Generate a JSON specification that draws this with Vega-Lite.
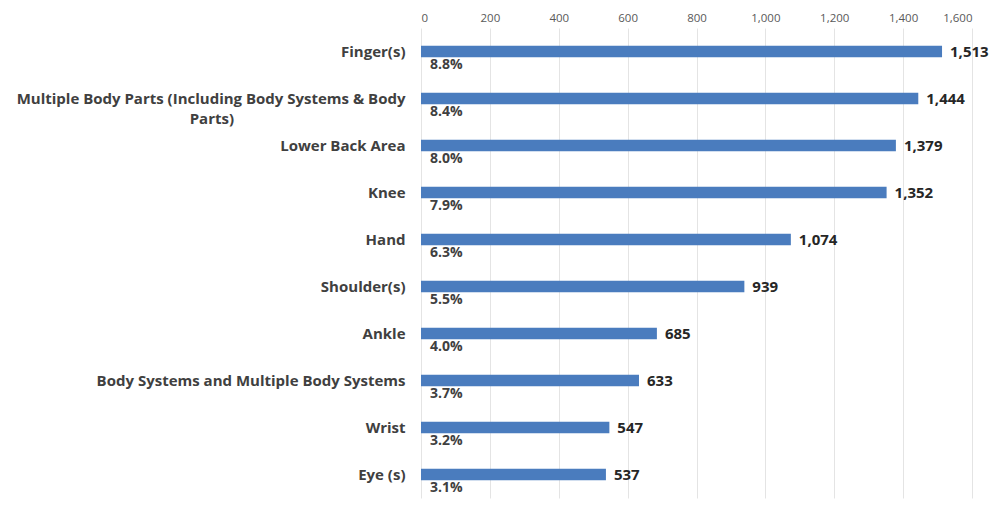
{
  "$schema": "https://vega.github.io/schema/vega-lite/v6.json",
  "width": 551,
  "height": 470,
  "autosize": {"type": "none"},
  "padding": {"left": 421, "top": 28, "right": 36, "bottom": 24},
  "background": "white",
  "config": {
    "view": {"stroke": null},
    "font": "Open Sans",
    "text": {"font": "Open Sans"}
  },
  "data": {
    "values": [
      {"part": "Finger(s)", "count": 1513, "pct": "8.8%"},
      {"part": "Multiple Body Parts (Including Body Systems & Body Parts)", "count": 1444, "pct": "8.4%"},
      {"part": "Lower Back Area", "count": 1379, "pct": "8.0%"},
      {"part": "Knee", "count": 1352, "pct": "7.9%"},
      {"part": "Hand", "count": 1074, "pct": "6.3%"},
      {"part": "Shoulder(s)", "count": 939, "pct": "5.5%"},
      {"part": "Ankle", "count": 685, "pct": "4.0%"},
      {"part": "Body Systems and Multiple Body Systems", "count": 633, "pct": "3.7%"},
      {"part": "Wrist", "count": 547, "pct": "3.2%"},
      {"part": "Eye (s)", "count": 537, "pct": "3.1%"}
    ]
  },
  "encoding": {
    "y": {
      "field": "part",
      "type": "nominal",
      "sort": null,
      "title": null,
      "scale": {"paddingInner": 0.76, "paddingOuter": 0.38},
      "axis": {
        "domain": false,
        "ticks": false,
        "labelPadding": 16,
        "labelFont": "Open Sans",
        "labelFontSize": 15,
        "labelFontWeight": "bold",
        "labelColor": "#404040",
        "labelLimit": 420,
        "labelExpr": "datum.label == 'Multiple Body Parts (Including Body Systems & Body Parts)' ? ['Multiple Body Parts (Including Body Systems & Body', 'Parts)\u00a0\u00a0\u00a0\u00a0\u00a0\u00a0\u00a0\u00a0\u00a0\u00a0\u00a0\u00a0\u00a0\u00a0\u00a0\u00a0\u00a0\u00a0\u00a0\u00a0\u00a0\u00a0\u00a0\u00a0\u00a0\u00a0\u00a0\u00a0\u00a0\u00a0\u00a0\u00a0\u00a0\u00a0\u00a0\u00a0\u00a0\u00a0\u00a0\u00a0\u00a0\u00a0\u00a0\u00a0\u200b'] : datum.label",
        "labelAlign": "right",
        "labelLineHeight": 20
      }
    }
  },
  "layer": [
    {
      "mark": {"type": "bar", "color": "#4a7cbe"},
      "encoding": {
        "x": {
          "field": "count",
          "type": "quantitative",
          "title": null,
          "scale": {"domain": [0, 1600], "nice": false},
          "axis": {
            "orient": "top",
            "values": [0, 200, 400, 600, 800, 1000, 1200, 1400, 1600],
            "format": ",d",
            "domain": false,
            "ticks": false,
            "grid": true,
            "gridColor": "#e4e4e4",
            "labelFont": "Open Sans",
            "labelFontSize": 11.5,
            "labelColor": "#595959",
            "labelPadding": 5
          }
        }
      }
    },
    {
      "mark": {"type": "text", "align": "left", "baseline": "middle", "dx": 8, "fontSize": 15, "fontWeight": "bold", "color": "#262626"},
      "encoding": {
        "x": {"field": "count", "type": "quantitative"},
        "text": {"field": "count", "type": "quantitative", "format": ",d"}
      }
    },
    {
      "mark": {"type": "text", "align": "left", "baseline": "middle", "dx": 9, "dy": 13, "fontSize": 14, "fontWeight": "bold", "color": "#404040"},
      "encoding": {
        "x": {"datum": 0, "type": "quantitative"},
        "text": {"field": "pct", "type": "nominal"}
      }
    }
  ]
}
